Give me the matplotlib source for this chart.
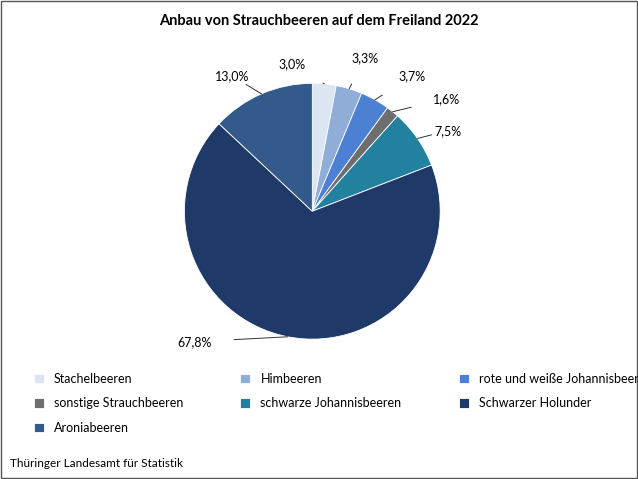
import numpy as np
import matplotlib.pyplot as plt
from matplotlib.patches import Rectangle

plt.rcParams['font.family'] = ['Lato', 'DejaVu Sans']

labels = ['Stachelbeeren', 'Himbeeren', 'rote und weiße Johannisbeeren',
          'sonstige Strauchbeeren', 'schwarze Johannisbeeren',
          'Schwarzer Holunder', 'Aroniabeeren']
values = [3.0, 3.3, 3.7, 1.6, 7.5, 67.8, 13.0]
colors = ['#dce6f2', '#8fadd6', '#4b80d3', '#6e6e6e', '#22819f', '#1f3a68', '#34598b']
# label text positions (pie radius units)
label_pos = [(-0.16, 1.15), (0.41, 1.2), (0.78, 1.06), (1.05, 0.88),
             (1.06, 0.63), (-0.92, -1.02), (-0.63, 1.06)]

fig = plt.figure(figsize=(6.38, 4.79), dpi=100)
fig.patches.append(Rectangle((0.002, 0.002), 0.996, 0.996, transform=fig.transFigure,
                             fill=False, edgecolor='#555555', linewidth=1))

ax = fig.add_axes([0.289, 0.292, 0.401, 0.534])
wedges, _ = ax.pie(values, colors=colors, startangle=90, counterclock=False,
                   wedgeprops=dict(edgecolor='white', linewidth=0.6))
for w, v, (tx, ty) in zip(wedges, values, label_pos):
    ang = np.deg2rad((w.theta1 + w.theta2) / 2)
    ex, ey = np.cos(ang), np.sin(ang)
    ax.annotate(f'{v:.1f}%'.replace('.', ','), xy=(ex, ey), xytext=(tx, ty),
                ha='center', va='center', fontsize=9,
                arrowprops=dict(arrowstyle='-', color='#333333', lw=0.7,
                                shrinkA=14, shrinkB=0))
ax.set_xlim(-1, 1)
ax.set_ylim(-1, 1)
ax.set_aspect('equal')

fig.text(0.5, 0.957, 'Anbau von Strauchbeeren auf dem Freiland 2022', ha='center', va='center',
         fontsize=10.5, fontweight='bold')
fig.text(0.016, 0.033, 'Thüringer Landesamt für Statistik', fontsize=8.5, va='center')

order = [0, 3, 6, 1, 4, 2, 5]
fig.legend([wedges[i] for i in order], [labels[i] for i in order], ncol=3,
           loc='upper left', bbox_to_anchor=(0.035, 0.245), frameon=False,
           fontsize=9, handlelength=0.8, handleheight=0.8, handletextpad=0.8,
           columnspacing=4.6, labelspacing=1.0)

fig.savefig('out.png', dpi=100)
